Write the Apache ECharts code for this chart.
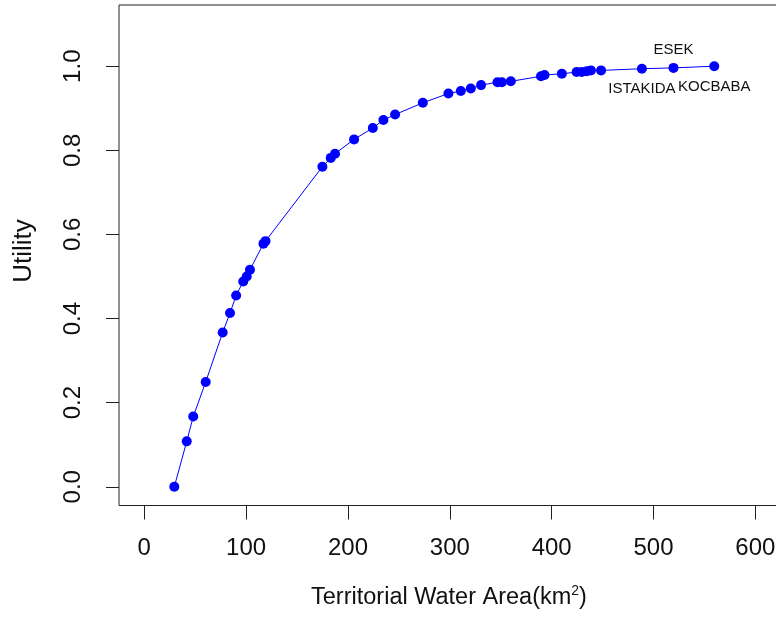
<!DOCTYPE html>
<html>
<head>
<meta charset="utf-8">
<script src="https://cdn.jsdelivr.net/npm/echarts@6/dist/echarts.min.js"></script>
<style>html,body{margin:0;padding:0;background:#fff;overflow:hidden;width:776px;height:619px;}#chart{width:830px;height:619px;}</style>
</head>
<body>
<div id="chart"></div>
<script>
// Territorial water area (km^2) and utility values
const areaValues = [29.5, 41.7, 48.1, 60.3, 77.0, 84.2, 90.2, 97.2, 100.6, 103.8, 117, 119,
  174.9, 183.1, 187.3, 206, 224.4, 234.8, 246.3, 273.5, 298.6, 310.8, 320.6, 330.7,
  346.8, 351.1, 359.9, 389.5, 393, 410, 424.5, 429.5, 434.5, 438.5, 448.5, 488.6, 519.6, 559.6];
const utilityValues = [0, 0.108, 0.167, 0.249, 0.367, 0.413, 0.455, 0.488, 0.5, 0.516, 0.578, 0.584,
  0.761, 0.782, 0.792, 0.826, 0.853, 0.872, 0.885, 0.913, 0.935, 0.941, 0.947, 0.955,
  0.962, 0.962, 0.964, 0.976, 0.979, 0.982, 0.986, 0.986, 0.988, 0.990, 0.990, 0.994, 0.996, 1.0];
const labeledAreas = [488.6, 519.6, 559.6];
const labeledNames = ['ISTAKIDA', 'ESEK', 'KOCBABA'];
const xTickValues = [0, 100, 200, 300, 400, 500, 600];
const yTickValues = [0, 0.2, 0.4, 0.6, 0.8, 1.0];

const labelPlacement = { 'ISTAKIDA': 'bottom', 'ESEK': 'top', 'KOCBABA': 'bottom' };
const FONT = '"Liberation Sans", Arial, sans-serif';
const TXT = '#111';

const seriesData = areaValues.map((x, i) => {
  const k = labeledAreas.indexOf(x);
  const item = { value: [x, utilityValues[i]] };
  if (k >= 0) {
    const name = labeledNames[k];
    item.label = {
      show: true,
      formatter: name,
      position: labelPlacement[name],
      distance: labelPlacement[name] === 'top' ? 6 : 8,
      fontSize: 15,
      fontFamily: FONT,
      color: TXT
    };
  }
  return item;
});

const chart = echarts.init(document.getElementById('chart'), null, { renderer: 'canvas' });
chart.setOption({
  animation: false,
  backgroundColor: '#fff',
  grid: {
    left: 119, top: 5, width: 682, height: 500.5,
    show: true, borderColor: '#222', borderWidth: 1, backgroundColor: 'transparent',
    containLabel: false
  },
  xAxis: {
    type: 'value',
    min: -24.8, max: 644.8,
    axisLine: { show: false, onZero: false },
    splitLine: { show: false },
    axisTick: { show: true, customValues: xTickValues, length: 14, lineStyle: { color: '#222' } },
    axisLabel: { customValues: xTickValues, fontSize: 24, fontFamily: FONT, color: TXT, margin: 31 }
  },
  yAxis: {
    type: 'value',
    min: -0.0445, max: 1.1455,
    axisLine: { show: false, onZero: false },
    splitLine: { show: false },
    axisTick: { show: true, customValues: yTickValues, length: 13, lineStyle: { color: '#222' } },
    axisLabel: {
      customValues: yTickValues, fontSize: 24, fontFamily: FONT, color: TXT, margin: 34, rotate: 90,
      formatter: v => v.toFixed(1)
    }
  },
  series: [{
    type: 'line',
    data: seriesData,
    symbol: 'circle',
    symbolSize: 10,
    lineStyle: { color: '#0000ff', width: 1 },
    itemStyle: { color: '#0000ff' },
    label: { show: false },
    emphasis: { disabled: true }
  }],
  graphic: [
    {
      type: 'text', x: 449, y: 598,
      style: {
        text: '{m|Territorial Water Area(km}{s|2}{m|)}',
        align: 'center', verticalAlign: 'middle',
        rich: {
          m: { fontSize: 23.5, fontFamily: FONT, fill: TXT, lineHeight: 28 },
          s: { fontSize: 14, fontFamily: FONT, fill: TXT, lineHeight: 28, verticalAlign: 'top', padding: [0,0,10,0] }
        }
      }
    },
    {
      type: 'text', x: 24, y: 251, rotation: Math.PI / 2,
      style: { text: 'Utility', fontSize: 26, fontFamily: FONT, fill: TXT, align: 'center', verticalAlign: 'middle' }
    }
  ]
});
</script>
</body>
</html>
